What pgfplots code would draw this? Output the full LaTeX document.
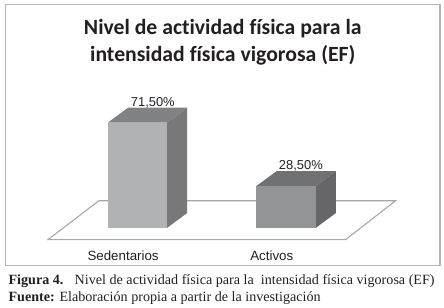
\documentclass[border=0pt]{standalone}
\usepackage{fontspec}
\usepackage{pgfplots}
\pgfplotsset{compat=1.18}
\setmainfont{Liberation Sans}
\newfontfamily\titlefont[Ligatures=NoCommon]{Carlito}
\newfontfamily\capfont{Liberation Serif}
\definecolor{frameC}{HTML}{B4B5B7}
\definecolor{floorC}{HTML}{A6A7A9}
\definecolor{aFront}{HTML}{B1B2B4}
\definecolor{aSide}{HTML}{78787A}
\definecolor{aTop}{HTML}{828284}
\definecolor{bFront}{HTML}{939496}
\definecolor{bSide}{HTML}{666668}
\definecolor{bTop}{HTML}{717173}
\definecolor{inkC}{HTML}{231F20}
\begin{document}
\begin{tikzpicture}
\useasboundingbox (-4.125pt,-31.725pt) rectangle (329.25pt,199.225pt);
\begin{axis}[
  scale only axis, width=326.25pt, height=196pt,
  xmin=-0.8868, xmax=2.0356, ymin=-25.36, ymax=151.86,
  axis line style={frameC, line width=1pt},
  xtick={0,1}, xticklabels={Sedentarios,Activos},
  ytick=\empty, major tick length=0pt,
  xticklabel style={anchor=center, xshift=-10.7pt, yshift=7.5pt, font=\fontsize{10pt}{12pt}\selectfont, text=inkC},
  title={Nivel de actividad física para la\\intensidad física vigorosa (EF)},
  title style={at={(axis description cs:0.5,0.825)}, anchor=center, align=center,
    font=\titlefont\bfseries\fontsize{16.3pt}{20.6pt}\selectfont, text=inkC},
  clip=false, no markers,
]
% floor
\addplot[fill=white, draw=floorC, line width=0.8pt] coordinates {(-0.6013,-7.93) (1.4007,-7.93) (1.7367,18.51) (-0.2586,18.51)} --cycle;
% Sedentarios
\addplot[fill=aSide, draw=none] coordinates {(0.199,0) (0.3354,10.17) (0.3354,81.67) (0.199,71.5)} --cycle;
\addplot[fill=aTop, draw=none] coordinates {(-0.199,71.5) (0.199,71.5) (0.3354,81.67) (-0.0626,81.67)} --cycle;
\addplot[ybar, bar width=0.398, bar shift=0pt, fill=aFront, draw=none] coordinates {(0,71.5)};
% Activos
\addplot[fill=bSide, draw=none] coordinates {(1.199,0) (1.3354,10.17) (1.3354,38.67) (1.199,28.5)} --cycle;
\addplot[fill=bTop, draw=none] coordinates {(0.801,28.5) (1.199,28.5) (1.3354,38.67) (0.9374,38.67)} --cycle;
\addplot[ybar, bar width=0.398, bar shift=0pt, fill=bFront, draw=none] coordinates {(1,28.5)};
\node[font=\fontsize{9.7pt}{11pt}\selectfont, text=inkC, inner sep=0pt] at (axis cs:0.104,85.2) {71,50\%};
\node[font=\fontsize{9.7pt}{11pt}\selectfont, text=inkC, inner sep=0pt] at (axis cs:1.1,42.3) {28,50\%};
\end{axis}
\node[anchor=base west, inner sep=0pt, text=inkC, font=\capfont\fontsize{10.6pt}{12pt}\selectfont] at (2.1pt,-14.5pt) {\textbf{Figura 4.}\hspace{0.8em}Nivel de actividad física para la\hspace{0.5em}intensidad física vigorosa (EF)};
\node[anchor=base west, inner sep=0pt, text=inkC, font=\capfont\fontsize{10.6pt}{12pt}\selectfont] at (2.1pt,-27pt) {\textbf{Fuente:} Elaboración propia a partir de la investigación};
\end{tikzpicture}
\end{document}
